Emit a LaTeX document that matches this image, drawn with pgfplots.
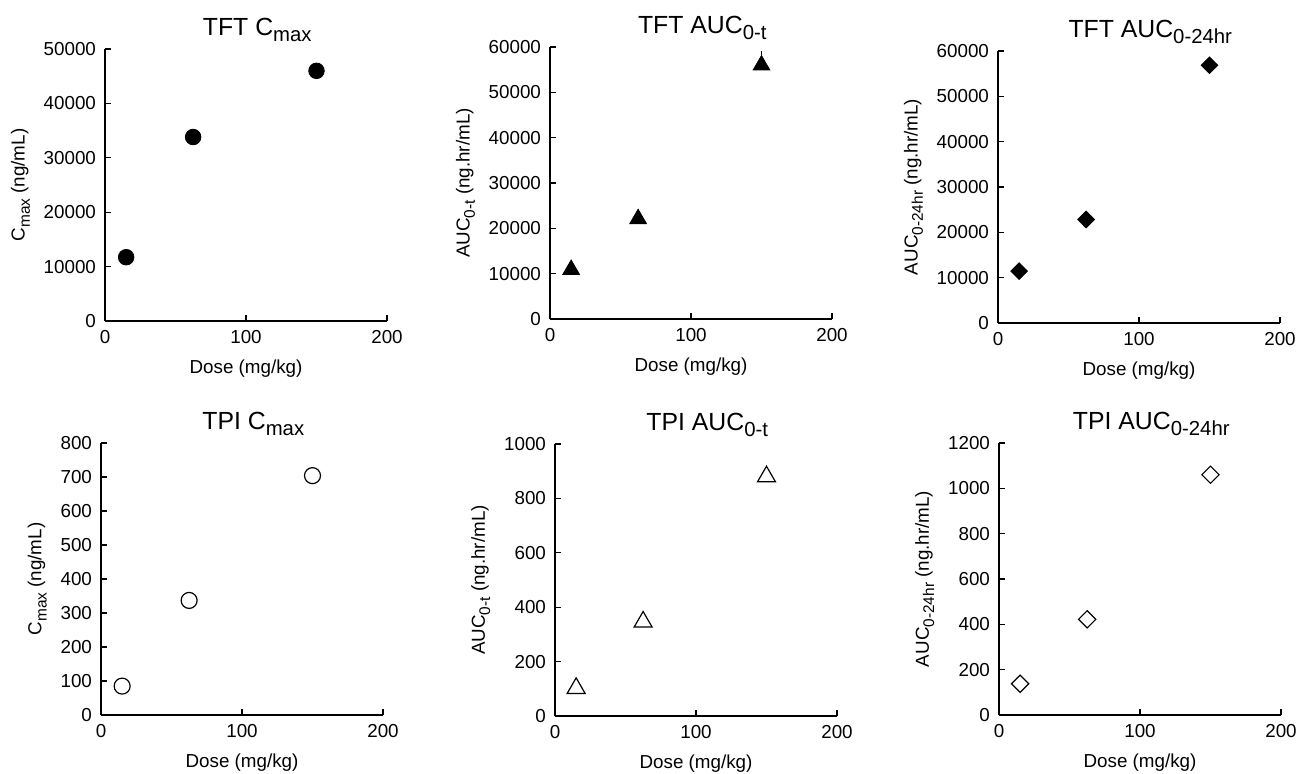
\documentclass[border=0pt]{standalone}
\usepackage{fontspec}
\setmainfont{Liberation Sans}
\usepackage{graphicx}
\usepackage{pgfplots}
\pgfplotsset{compat=1.18}

% subscript in the text font
\newcommand{\sub}[1]{\raisebox{-0.28em}{\scalebox{0.82}{#1}}}

\pgfplotsset{
    panel/.style={
        width=141pt, height=136pt, scale only axis,
        axis lines*=left,
        axis line style={line width=0.55pt},
        tick style={black, line width=0.55pt},
        major tick length=2.8pt,
        xmin=0, xmax=200, xtick={0,100,200}, ymin=0,
        tick label style={font=\fontsize{9.4}{10}\selectfont},
        /pgf/number format/assume math mode=true,
        /pgf/number format/set thousands separator={},
        scaled y ticks=false,
        xlabel={Dose (mg/kg)},
        label style={font=\fontsize{9.4}{10}\selectfont},
        xlabel style={at={(axis description cs:0.5,0)}, anchor=base, yshift=-26pt},
        xticklabel style={anchor=base, yshift=-11pt},
        yticklabel style={xshift=-1pt},
        every axis title shift=0pt,
        title style={font=\fontsize{12.4}{14}\selectfont, at={(axis description cs:0.54,1)}, anchor=base, yshift=7pt},
        clip=false,
    },
}

\begin{document}
\begin{tikzpicture}
\useasboundingbox (0,0) rectangle (648pt,386.5pt);

% TFT Cmax
\begin{axis}[panel, at={(52.5pt,226pt)}, anchor=south west,
    ymax=50000, ytick distance=10000,
    title={TFT C\sub{max}}, ylabel={C\sub{max} (ng/mL)}]
\addplot[only marks, mark=*, mark size=3.9pt, black] coordinates {
(15,11730) (62.5,33820) (150,45990)
};
\end{axis}

% TFT AUC0-t
\begin{axis}[panel, at={(275pt,227pt)}, anchor=south west,
    ymax=60000, ytick distance=10000,
    title={TFT AUC\sub{0-t}}, ylabel={AUC\sub{0-t} (ng.hr/mL)}]
\addplot[only marks, mark=triangle*, mark size=4.8pt, black,
    error bars/.cd, y dir=plus, y explicit, error mark=none,
    error bar style={line width=0.6pt}] coordinates {
(15,10900) +- (0,0)
(62.5,22100) +- (0,0)
(150,56000) +- (0,3100)
};
\end{axis}

% TFT AUC0-24hr
\begin{axis}[panel, at={(499pt,225pt)}, anchor=south west,
    ymax=60000, ytick distance=10000,
    title={TFT AUC\sub{0-24hr}}, ylabel={AUC\sub{0-24hr} (ng.hr/mL)}]
\addplot[only marks, mark=square*, mark size=2.95pt, black,
    mark options={rotate=45}] coordinates {
(15,11450) (62.5,22830) (150,56850)
};
\end{axis}

% TPI Cmax
\begin{axis}[panel, at={(50.5pt,29pt)}, anchor=south west,
    ymax=800, ytick distance=100,
    title={TPI C\sub{max}}, ylabel={C\sub{max} (ng/mL)}]
\addplot[only marks, mark=o, mark size=4pt, black,
    mark options={line width=0.6pt, fill=white}] coordinates {
(15,85) (62.5,337) (150,704)
};
\end{axis}

% TPI AUC0-t
\begin{axis}[panel, at={(277.5pt,28.5pt)}, anchor=south west,
    ymax=1000, ytick distance=200,
    title={TPI AUC\sub{0-t}}, ylabel={AUC\sub{0-t} (ng.hr/mL)}]
\addplot[only marks, mark=triangle, mark size=5.2pt, black,
    mark options={line width=0.6pt}] coordinates {
(15,102) (62.5,346) (150,880)
};
\end{axis}

% TPI AUC0-24hr
\begin{axis}[panel, at={(499.5pt,29pt)}, anchor=south west,
    ymax=1200, ytick distance=200,
    title={TPI AUC\sub{0-24hr}}, ylabel={AUC\sub{0-24hr} (ng.hr/mL)}]
\addplot[only marks, mark=square, mark size=3.05pt, black,
    mark options={rotate=45, line width=0.6pt}] coordinates {
(15,138) (62.5,422) (150,1060)
};
\end{axis}

\end{tikzpicture}
\end{document}
